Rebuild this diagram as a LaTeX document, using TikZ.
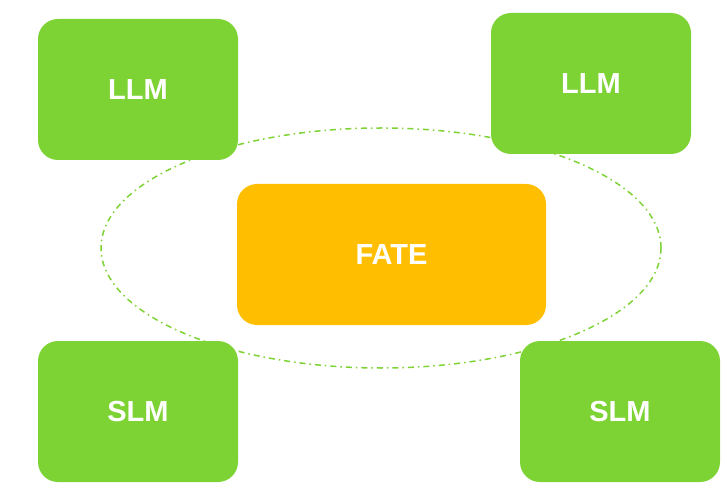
\documentclass[tikz,border=0pt]{standalone}
\usepackage{fontspec}
\setmainfont{Liberation Sans}
\usetikzlibrary{shapes.geometric}
\definecolor{boxgreen}{RGB}{126,211,52}
\definecolor{boxorange}{RGB}{255,191,0}
\begin{document}
\begin{tikzpicture}[x=1pt,y=-1pt,
  gbox/.style={fill=boxgreen, rounded corners=20pt, minimum width=200pt, minimum height=141pt, inner sep=0pt, text=white, font=\fontsize{29}{32}\selectfont\bfseries},
  obox/.style={fill=boxorange, rounded corners=20pt, minimum width=309pt, minimum height=141pt, inner sep=0pt, text=white, font=\fontsize{29}{32}\selectfont\bfseries},
  ring/.style={draw=boxgreen, line width=1.5pt, dash pattern=on 6pt off 4pt on 1.5pt off 4pt}]
\useasboundingbox (0,0) rectangle (727,502);
\node[ring, ellipse, minimum width=560pt, minimum height=240pt, inner sep=0pt] (ring) at (381,248) {};
\node[gbox] (llm1) at (138,89.5) {LLM};
\node[gbox] (llm2) at (591,83.5) {LLM};
\node[gbox] (slm1) at (138,411.5) {SLM};
\node[gbox] (slm2) at (620,411.5) {SLM};
\node[obox] (fate) at (391.5,254.5) {FATE};
\end{tikzpicture}
\end{document}
